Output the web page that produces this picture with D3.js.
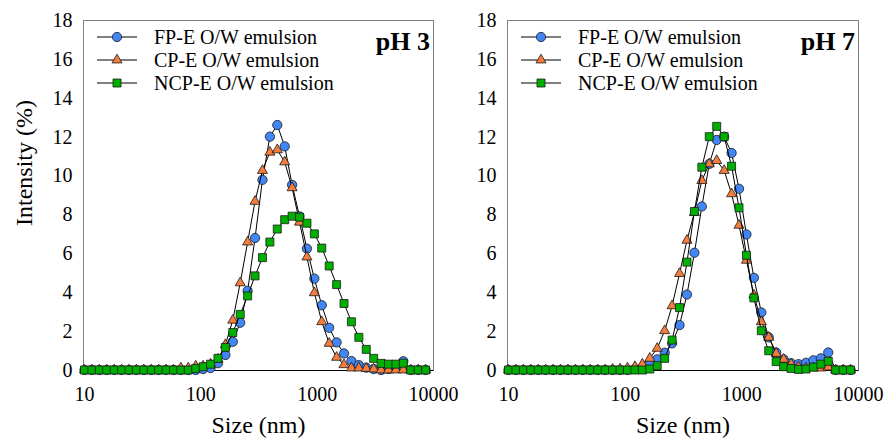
<!DOCTYPE html>
<html>
<head>
<meta charset="utf-8">
<script src="https://cdn.jsdelivr.net/npm/d3@7"></script>
<style>
  body { margin: 0; background: #fff; }
</style>
</head>
<body>
<div id="chart"></div>
<script>
// Size bins (nm)
const sizes = [10.10, 11.70, 13.54, 15.69, 18.17, 21.04, 24.36, 28.21, 32.67, 37.84, 43.82, 50.75, 58.77, 68.06, 78.82, 91.28,
  105.7, 122.4, 141.8, 164.2, 190.1, 220.2, 255.0, 295.3, 342.0, 396.1, 458.7, 531.2, 615.1, 712.4, 825.0, 955.4,
  1106, 1281, 1484, 1718, 1990, 2305, 2669, 3091, 3580, 4145, 4801, 5560, 6439, 7456, 8635];

// Intensity (%) at pH 3
const fpE_pH3 = [0, 0, 0, 0, 0, 0, 0, 0, 0, 0, 0, 0, 0, 0, 0, 0,
  0.05, 0.1, 0.35, 0.77, 1.45, 2.43, 4.07, 6.79, 9.78, 12.0, 12.6, 11.5, 9.52, 7.9, 6.24, 4.7,
  3.33, 2.17, 1.42, 0.85, 0.46, 0.25, 0.12, 0.05, 0, 0.05, 0.2, 0.45, 0, 0, 0];
const cpE_pH3 = [0, 0, 0, 0, 0, 0, 0, 0, 0, 0, 0, 0, 0, 0.1, 0.1, 0.2,
  0.2, 0.3, 0.55, 1.3, 2.56, 4.48, 6.58, 8.67, 10.26, 11.2, 11.32, 10.7, 9.37, 7.6, 5.81, 3.97,
  2.48, 1.37, 0.65, 0.27, 0.1, 0.1, 0.08, 0.05, 0, 0, 0, 0, 0, 0, 0];
const ncpE_pH3 = [0, 0, 0, 0, 0, 0, 0, 0, 0, 0, 0, 0, 0, 0, 0, 0.08,
  0.17, 0.3, 0.6, 1.16, 1.93, 2.86, 3.81, 4.84, 5.78, 6.58, 7.25, 7.73, 7.91, 7.86, 7.55, 7.0,
  6.27, 5.35, 4.39, 3.42, 2.48, 1.68, 1.06, 0.6, 0.34, 0.3, 0.3, 0.35, 0, 0, 0];

// Intensity (%) at pH 7
const fpE_pH7 = [0, 0, 0, 0, 0, 0, 0, 0, 0, 0, 0, 0, 0, 0, 0, 0,
  0, 0.05, 0.1, 0.3, 0.55, 0.89, 1.37, 2.31, 3.88, 6.03, 8.41, 10.6, 11.83, 12.0, 11.16, 9.32,
  6.97, 4.74, 2.96, 1.68, 0.9, 0.55, 0.35, 0.3, 0.37, 0.5, 0.6, 0.9, 0, 0, 0];
const cpE_pH7 = [0, 0, 0, 0, 0, 0, 0, 0, 0, 0, 0, 0, 0, 0, 0.03, 0.05,
  0.1, 0.17, 0.3, 0.6, 1.11, 2.02, 3.3, 4.96, 6.67, 8.1, 9.74, 10.6, 10.77, 10.26, 9.06, 7.44,
  5.64, 3.85, 2.48, 1.68, 0.85, 0.55, 0.3, 0.15, 0.1, 0.1, 0.1, 0.15, 0, 0, 0];
const ncpE_pH7 = [0, 0, 0, 0, 0, 0, 0, 0, 0, 0, 0, 0, 0, 0, 0, 0,
  0, 0, 0, 0.05, 0.22, 0.6, 1.54, 3.21, 5.55, 8.15, 10.43, 12.0, 12.53, 12.0, 10.48, 8.34,
  5.9, 3.71, 2.02, 0.99, 0.43, 0.17, 0.08, 0.03, 0.05, 0.15, 0.3, 0.45, 0, 0, 0];

const seriesNames = ['FP-E O/W emulsion', 'CP-E O/W emulsion', 'NCP-E O/W emulsion'];
const xTicks = [10, 100, 1000, 10000];
const yTicks = [0, 2, 4, 6, 8, 10, 12, 14, 16, 18];

const FONT = 'Liberation Serif';

const styles = [
  { fill: '#4285f4', symbol: d3.symbolCircle, size: 68 },
  { fill: '#f47c3c', symbol: d3.symbolTriangle, size: 44 },
  { fill: '#00b000', symbol: d3.symbolSquare, size: 64 }
];

const svg = d3.select('#chart')
  .append('svg')
  .attr('width', 887)
  .attr('height', 439)
  .style('font-family', FONT);

function drawPanel(left, right, label, seriesList) {
  const top = 20, bottom = 370;

  const x = d3.scaleLog().domain([10, 10000]).range([left, right]);
  const y = d3.scaleLinear().domain([0, 18]).range([bottom, top]);

  const g = svg.append('g');

  // plot frame
  g.append('rect')
    .attr('x', left - 0.5)
    .attr('y', top + 0.5)
    .attr('width', right - left + 1)
    .attr('height', bottom - top)
    .attr('fill', 'none')
    .attr('stroke', '#808080')
    .attr('stroke-width', 1);

  g.append('line')
    .attr('x1', left - 0.5).attr('x2', right + 0.5)
    .attr('y1', bottom + 0.5).attr('y2', bottom + 0.5)
    .attr('stroke', '#000');

  // Y axis
  const yAxis = g.append('g')
    .attr('transform', `translate(${left - 0.5},0)`)
    .call(d3.axisLeft(y).tickValues(yTicks).tickSize(0).tickPadding(11));
  yAxis.select('.domain').remove();
  yAxis.attr('font-family', FONT).attr('font-size', 20);
  yAxis.selectAll('text').style('font-family', FONT).style('font-size', '20px').attr('fill', '#000');

  // X axis
  const xAxis = g.append('g')
    .attr('transform', `translate(0,${bottom})`)
    .call(d3.axisBottom(x).tickValues(xTicks).tickFormat(d3.format('d')).tickSize(0).tickPadding(17));
  xAxis.select('.domain').remove();
  xAxis.attr('font-family', FONT).attr('font-size', 20);
  xAxis.selectAll('text').style('font-family', FONT).style('font-size', '20px').attr('fill', '#000');

  g.append('text')
    .attr('x', (left + right) / 2)
    .attr('y', 433)
    .attr('text-anchor', 'middle')
    .style('font-family', FONT)
    .style('font-size', '24px')
    .text('Size (nm)');

  const line = d3.line()
    .x((d, i) => x(sizes[i]))
    .y(d => y(d));

  seriesList.forEach((values, k) => {
    g.append('path')
      .datum(values)
      .attr('d', line)
      .attr('fill', 'none')
      .attr('stroke', '#000')
      .attr('stroke-width', 1);

    g.selectAll(`.m${k}`)
      .data(values)
      .enter()
      .append('path')
      .attr('class', `m${k}`)
      .attr('transform', (d, i) => `translate(${x(sizes[i])},${y(d)})`)
      .attr('d', d3.symbol().type(styles[k].symbol).size(styles[k].size))
      .attr('fill', styles[k].fill)
      .attr('stroke', '#1a1a1a')
      .attr('stroke-width', 0.8);
  });

  // legend
  const legend = g.append('g')
    .attr('transform', `translate(${left},0)`);

  seriesNames.forEach((name, k) => {
    const ly = 37 + k * 23;
    legend.append('line')
      .attr('x1', 13).attr('x2', 53)
      .attr('y1', ly).attr('y2', ly)
      .attr('stroke', '#000');
    legend.append('path')
      .attr('transform', `translate(33,${ly})`)
      .attr('d', d3.symbol().type(styles[k].symbol).size(styles[k].size))
      .attr('fill', styles[k].fill)
      .attr('stroke', '#1a1a1a')
      .attr('stroke-width', 0.8);
    legend.append('text')
      .attr('x', 70)
      .attr('y', ly)
      .attr('dy', '0.35em')
      .style('font-family', FONT)
      .style('font-size', '20px')
      .text(name);
  });

  g.append('text')
    .attr('x', right - 3)
    .attr('y', 50)
    .attr('text-anchor', 'end')
    .style('font-family', FONT)
    .style('font-size', '26px')
    .style('font-weight', 'bold')
    .text(label);
}

drawPanel(84, 433, 'pH 3', [fpE_pH3, cpE_pH3, ncpE_pH3]);
drawPanel(508, 858, 'pH 7', [fpE_pH7, cpE_pH7, ncpE_pH7]);

// Y axis title
svg.append('text')
  .attr('transform', 'translate(32,163) rotate(-90)')
  .attr('text-anchor', 'middle')
  .style('font-family', FONT)
  .style('font-size', '24px')
  .text('Intensity (%)');
</script>
</body>
</html>
